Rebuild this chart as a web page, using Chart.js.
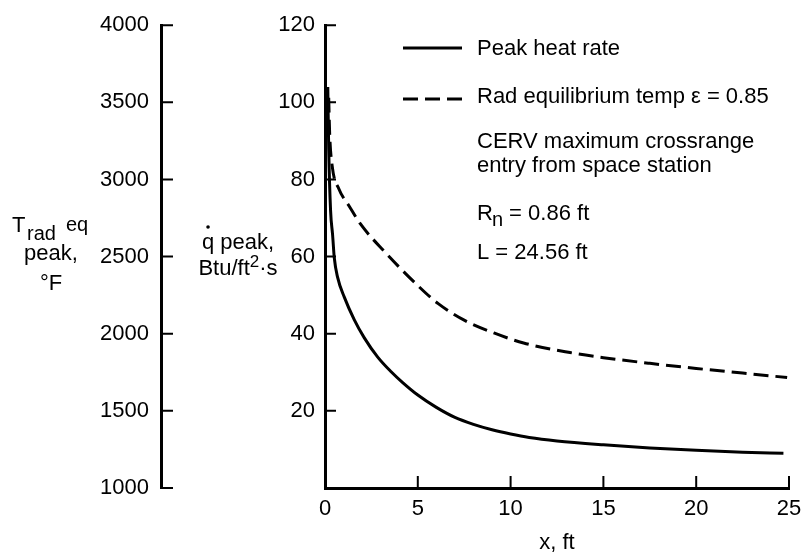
<!DOCTYPE html>
<html>
<head>
<meta charset="utf-8">
<script src="https://cdn.jsdelivr.net/npm/chart.js@4/dist/chart.umd.min.js"></script>
<style>
  html, body { margin: 0; padding: 0; background: #fff; }
  #wrap { width: 810px; height: 552px; position: relative; }
</style>
</head>
<body>
<div id="wrap"><canvas id="chart"></canvas></div>
<script>
// Peak heat rate (solid), Btu/ft^2-s vs x, ft
const heatX = [0.15, 0.2, 0.3, 0.41, 0.5, 0.68, 1.04, 1.58, 2.11, 2.83, 3.55, 4.17, 5, 6, 7, 8, 9, 10, 11, 12.5, 15, 17.5, 20, 22.5, 24.7];
const heatRate = [104, 88, 72, 65.6, 59.7, 54.6, 49.5, 43.6, 39.0, 34.0, 30.2, 27.4, 24.1, 20.9, 18.3, 16.5, 15.1, 14.0, 13.1, 12.2, 11.2, 10.4, 9.8, 9.3, 9.0];

// Radiation equilibrium temperature (dashed), deg F
const tempX = [0.2, 0.25, 0.39, 0.75, 1.29, 1.9, 3.2, 5, 6.1, 7.5, 9.1, 10.7, 13.2, 15, 17.5, 20, 22.5, 24.9];
const tempRad = [3530, 3300, 3085, 2938, 2830, 2713, 2533, 2312, 2195, 2088, 2005, 1940, 1878, 1845, 1808, 1775, 1745, 1716];

// tick labels
const xTicks = [0, 5, 10, 15, 20, 25];
const qTicks = [20, 40, 60, 80, 100, 120];
const tTicks = [1000, 1500, 2000, 2500, 3000, 3500, 4000];

const FONT = '"Liberation Sans", Arial, Helvetica, sans-serif';

const setTicks = (arr) => (s) => { s.ticks = arr.map(v => ({ value: v })); };
const plain = (v) => String(v);

// inward tick marks, like the original figure
const tickMarks = {
  id: 'tickMarks',
  afterDraw(chart) {
    const ctx = chart.ctx;
    const { x, y, yT } = chart.scales;
    ctx.save();
    ctx.strokeStyle = '#000';
    ctx.lineWidth = 2;
    ctx.beginPath();
    xTicks.forEach(v => {
      if (v === 0) return;
      const px = x.getPixelForValue(v);
      ctx.moveTo(px, x.top);
      ctx.lineTo(px, x.top - 12);
    });
    qTicks.forEach(v => {
      const py = y.getPixelForValue(v);
      ctx.moveTo(y.right, py);
      ctx.lineTo(y.right + 11, py);
    });
    tTicks.forEach(v => {
      const py = yT.getPixelForValue(v);
      ctx.moveTo(yT.right, py);
      ctx.lineTo(yT.right + 12, py);
    });
    ctx.stroke();
    ctx.restore();
  }
};

// axis titles and the legend / notes block
const annotations = {
  id: 'annotations',
  afterDraw(chart) {
    const ctx = chart.ctx;
    const ca = chart.chartArea;
    ctx.save();
    ctx.fillStyle = '#000';
    ctx.strokeStyle = '#000';
    ctx.font = '22px ' + FONT;
    ctx.textBaseline = 'alphabetic';

    // left title: T_rad eq / peak, / °F
    ctx.textAlign = 'left';
    ctx.fillText('T', 12, 232);
    ctx.font = '20px ' + FONT;
    ctx.fillText('rad', 27, 240);
    ctx.fillText('eq', 66, 231);
    ctx.font = '22px ' + FONT;
    ctx.textAlign = 'center';
    ctx.fillText('peak,', 51, 260);
    ctx.fillText('\u00B0F', 51, 290);

    // middle title: q-dot peak, / Btu/ft2·s
    const cx = 238;
    ctx.fillText('q peak,', cx, 249);
    const qw = ctx.measureText('q peak,').width;
    const qStart = cx - qw / 2;
    const qCharW = ctx.measureText('q').width;
    ctx.beginPath();
    ctx.arc(qStart + qCharW / 2, 227, 1.8, 0, Math.PI * 2);
    ctx.fill();

    ctx.textAlign = 'left';
    const p1 = 'Btu/ft', p3 = '\u00B7s';
    const w1 = ctx.measureText(p1).width;
    ctx.font = '17px ' + FONT;
    const w2 = ctx.measureText('2').width;
    ctx.font = '22px ' + FONT;
    const w3 = ctx.measureText(p3).width;
    const sx = cx - (w1 + w2 + w3) / 2;
    ctx.fillText(p1, sx, 275);
    ctx.font = '17px ' + FONT;
    ctx.fillText('2', sx + w1, 267);
    ctx.font = '22px ' + FONT;
    ctx.fillText(p3, sx + w1 + w2, 275);

    // x title
    ctx.textAlign = 'center';
    ctx.fillText('x, ft', (ca.left + ca.right) / 2, 549);

    // legend
    ctx.lineWidth = 3;
    ctx.beginPath();
    ctx.moveTo(403, 48);
    ctx.lineTo(462, 48);
    ctx.stroke();
    ctx.setLineDash([15, 7]);
    ctx.beginPath();
    ctx.moveTo(403, 99);
    ctx.lineTo(462, 99);
    ctx.stroke();
    ctx.setLineDash([]);

    ctx.textAlign = 'left';
    const tx = 477;
    ctx.fillText(chart.data.datasets[0].label, tx, 55);
    ctx.fillText(chart.data.datasets[1].label, tx, 103);
    ctx.fillText('CERV maximum crossrange', tx, 148);
    ctx.fillText('entry from space station', tx, 172);
    ctx.fillText('R', tx, 220);
    const rw = ctx.measureText('R').width;
    ctx.font = '20px ' + FONT;
    ctx.fillText('n', tx + rw - 1, 226);
    const nw = ctx.measureText('n').width;
    ctx.font = '22px ' + FONT;
    ctx.fillText(' = 0.86 ft', tx + rw - 1 + nw, 220);
    ctx.fillText('L = 24.56 ft', tx, 259);
    ctx.restore();
  }
};

new Chart(document.getElementById('chart'), {
  type: 'line',
  data: {
    datasets: [
      {
        label: 'Peak heat rate',
        data: heatX.map((x, i) => ({ x, y: heatRate[i] })),
        yAxisID: 'y',
        borderColor: '#000',
        borderWidth: 3,
        pointRadius: 0,
        fill: false,
        cubicInterpolationMode: 'monotone'
      },
      {
        label: 'Rad equilibrium temp \u03B5 = 0.85',
        data: tempX.map((x, i) => ({ x, y: tempRad[i] })),
        yAxisID: 'yT',
        borderColor: '#000',
        borderWidth: 3,
        borderDash: [15, 7],
        pointRadius: 0,
        fill: false,
        cubicInterpolationMode: 'monotone'
      }
    ]
  },
  options: {
    responsive: true,
    maintainAspectRatio: false,
    animation: false,
    events: [],
    layout: { padding: { top: 16, right: 21, left: 0, bottom: 0 } },
    plugins: {
      legend: { display: false },
      tooltip: { enabled: false }
    },
    scales: {
      x: {
        type: 'linear',
        position: 'bottom',
        min: 0,
        max: 25,
        grid: { display: false, drawTicks: false },
        border: { display: true, color: '#000', width: 3 },
        afterBuildTicks: setTicks(xTicks),
        ticks: { color: '#000', font: { family: FONT, size: 22 }, padding: 8, maxRotation: 0, autoSkip: false, callback: plain },
        afterFit: (s) => { s.height = 64; }
      },
      y: {
        position: 'left',
        weight: 0,
        min: 0,
        max: 120,
        grid: { display: false, drawTicks: false },
        border: { display: true, color: '#000', width: 3 },
        afterBuildTicks: setTicks(qTicks),
        ticks: { color: '#000', font: { family: FONT, size: 22 }, padding: 10, autoSkip: false, callback: plain },
        afterFit: (s) => { s.width = 164; }
      },
      yT: {
        position: 'left',
        weight: 1,
        min: 1000,
        max: 4000,
        grid: { display: false, drawTicks: false },
        border: { display: true, color: '#000', width: 3 },
        afterBuildTicks: setTicks(tTicks),
        ticks: { color: '#000', font: { family: FONT, size: 22 }, padding: 12, autoSkip: false, callback: plain },
        afterFit: (s) => { s.width = 161; }
      }
    }
  },
  plugins: [tickMarks, annotations]
});
</script>
</body>
</html>
